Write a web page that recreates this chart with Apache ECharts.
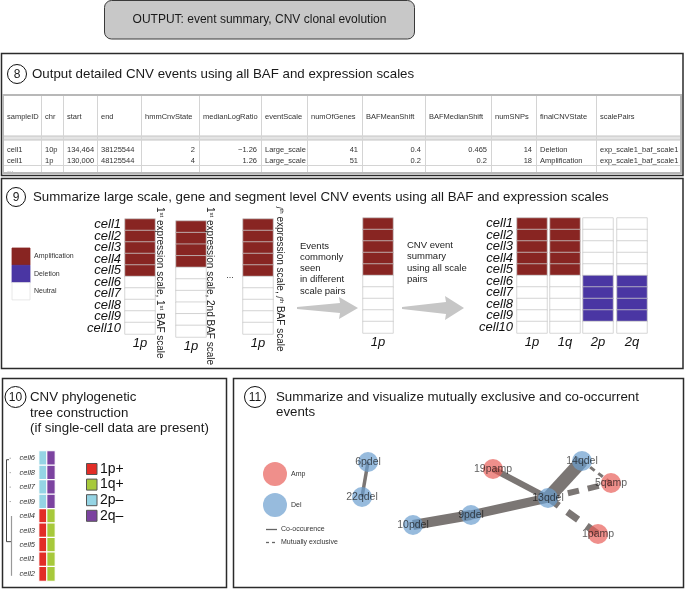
<!DOCTYPE html>
<html><head><meta charset="utf-8">
<script src="https://cdn.jsdelivr.net/npm/echarts@6/dist/echarts.min.js"></script>
<style>html,body{margin:0;padding:0;background:#fff;}#chart{width:685px;height:590px;}</style>
</head><body><div id="chart"></div>
<script>
// ---------------- data ----------------
const cells = ['cell1','cell2','cell3','cell4','cell5','cell6','cell7','cell8','cell9','cell10'];
const pairArm = ['1p'];
const pair1State = [1,1,1,1,1,0,0,0,0,0];
const pair2State = [1,1,1,1,0,0,0,0,0,0];
const pairJState = [1,1,1,1,1,0,0,0,0,0];
const commonState = [1,1,1,1,1,0,0,0,0,0];
const armLabels = ['1p','1q','2p','2q'];
const summary1p = [1,1,1,1,1,0,0,0,0,0];
const summary1q = [1,1,1,1,1,0,0,0,0,0];
const summary2p = [0,0,0,0,0,-1,-1,-1,-1,0];
const summary2q = [0,0,0,0,0,-1,-1,-1,-1,0];
const stateLegend = ['Amplification','Deletion','Neutral'];

const treeCells = ['cell6','cell8','cell7','cell9','cell4','cell3','cell5','cell1','cell2'];
const treeColA = [3,3,3,3,1,1,1,1,1];
const treeColB = [4,4,4,4,2,2,2,2,2];
const treeLegend = ['1p+','1q+','2p\u2013','2q\u2013'];

const tableHeader = ['sampleID','chr','start','end','hmmCnvState','medianLogRatio','eventScale','numOfGenes','BAFMeanShift','BAFMedianShift','numSNPs','finalCNVState','scalePairs'];
const tableRow1 = ['cell1','10p','134,464','38125544','2','\u22121.26','Large_scale','41','0.4','0.465','14','Deletion','exp_scale1_baf_scale1'];
const tableRow2 = ['cell1','1p','130,000','48125544','4','1.26','Large_scale','51','0.2','0.2','18','Amplification','exp_scale1_baf_scale1'];
const tableRow3 = ['...','','','','','','','','','','','',''];

const nodeNames = ['6pdel','22qdel','19pamp','14qdel','5qamp','13qdel','9pdel','10pdel','1pamp'];
const nodeKind  = ['Del','Del','Amp','Del','Amp','Del','Del','Del','Amp'];
const nodeLayoutX = [135,129,260,349,378,315,238,180,365];
const nodeLayoutY = [84,119,91,83,105,120,137,147,156];
const edgeFrom = ['6pdel','10pdel','9pdel','19pamp','13qdel','13qdel','13qdel','14qdel'];
const edgeTo   = ['22qdel','9pdel','13qdel','13qdel','14qdel','5qamp','1pamp','5qamp'];
const edgeWeight = [3.5,10,9,6,13,6,7,3];
const edgeKind = ['co','co','co','co','co','mx','mx','mx'];

// ---------------- styles ----------------
const FONT = "'Liberation Sans', Arial, Helvetica, sans-serif";
const AMP = '#882522', DEL = '#4a36a3';
const TREE_COL = ['#e22d27','#a7c93b','#95d4e4','#7c43a0'];
const AMP_NODE = '#e8605a', DEL_NODE = '#6b9ecf';
const TITLE = 13.3;

const chart = echarts.init(document.getElementById('chart'), null, {renderer:'canvas'});

const hmGrids = [
  {left:125, top:219, width:30, height:115},
  {left:176, top:221, width:30, height:116},
  {left:243, top:219, width:30, height:115},
  {left:363, top:218, width:30, height:115},
  {left:517, top:218, width:30, height:115},
  {left:550, top:218, width:30, height:115},
  {left:583, top:218, width:30, height:115},
  {left:617, top:218, width:30, height:115}
];
const hmX = [pairArm, pairArm, pairArm, pairArm, [armLabels[0]], [armLabels[1]], [armLabels[2]], [armLabels[3]]];
const hmData = [pair1State, pair2State, pairJState, commonState, summary1p, summary1q, summary2p, summary2q];

const grids = hmGrids.map(g => Object.assign({outerBoundsMode:'none', containLabel:false}, g));
grids.push({left:39, top:451, width:16, height:130, outerBoundsMode:'none'});
grids.push({left:233, top:378, width:451, height:210, outerBoundsMode:'none'});

const xAxes = [], yAxes = [], series = [];
hmData.forEach((arr, i) => {
  xAxes.push({type:'category', gridIndex:i, data:hmX[i], position:'bottom',
    axisLine:{show:false}, axisTick:{show:false}, splitLine:{show:false},
    axisLabel:{show:true, fontStyle:'italic', fontSize:13, fontFamily:FONT, color:'#111', margin:3}});
  yAxes.push({type:'category', gridIndex:i, data:cells, inverse:true,
    axisLine:{show:false}, axisTick:{show:false}, splitLine:{show:false},
    axisLabel:{show:(i===0||i===4), interval:0, fontStyle:'italic', fontSize:13, fontFamily:FONT, color:'#111', margin:4}});
  series.push({type:'heatmap', xAxisIndex:i, yAxisIndex:i, silent:true,
    data: arr.map((v, r) => [0, r, v]),
    itemStyle:{borderColor:'rgba(200,200,200,0.75)', borderWidth:1},
    emphasis:{disabled:true}});
});
// tree heatmap (grid 8)
xAxes.push({type:'category', gridIndex:8, data:['A','B'], show:false});
yAxes.push({type:'category', gridIndex:8, data:treeCells, inverse:true,
  axisLine:{show:false}, axisTick:{show:false}, splitLine:{show:false},
  axisLabel:{show:true, interval:0, fontStyle:'italic', fontSize:7.5, fontFamily:FONT, color:'#333', margin:4}});
series.push({type:'heatmap', xAxisIndex:8, yAxisIndex:8, silent:true,
  data: treeColA.map((v, r) => [0, r, v]).concat(treeColB.map((v, r) => [1, r, v])),
  itemStyle:{borderColor:'#ffffff', borderWidth:1.2}, emphasis:{disabled:true}});
// network (grid 9)
xAxes.push({type:'value', gridIndex:9, min:0, max:451, show:false, splitLine:{show:false}});
yAxes.push({type:'value', gridIndex:9, min:0, max:210, inverse:true, show:false, splitLine:{show:false}});
const nodePos = name => { const i = nodeNames.indexOf(name); return [nodeLayoutX[i], nodeLayoutY[i]]; };
series.push({type:'lines', coordinateSystem:'cartesian2d', xAxisIndex:9, yAxisIndex:9, silent:true, z:2,
  lineStyle:{color:'#7b7674', opacity:1, curveness:0, cap:'butt'},
  data: edgeFrom.map((f, i) => ({coords:[nodePos(f), nodePos(edgeTo[i])],
    lineStyle:{width:edgeWeight[i], color:'#7b7674', opacity:1,
      type: edgeKind[i]==='mx' ? [edgeWeight[i]*1.9, edgeWeight[i]*1.5] : 'solid'}}))});
series.push({type:'scatter', xAxisIndex:9, yAxisIndex:9, silent:true, z:3, symbolSize:20,
  data: nodeNames.map((n, i) => ({name:n, value:[nodeLayoutX[i], nodeLayoutY[i]],
    itemStyle:{color: nodeKind[i]==='Amp' ? AMP_NODE : DEL_NODE, opacity:0.7}})),
  label:{show:true, position:'inside', formatter:'{b}', fontSize:10.5, fontFamily:FONT, color:'#111'}});

const option = {
  animation:false,
  backgroundColor:'#ffffff',
  grid: grids, xAxis: xAxes, yAxis: yAxes,
  visualMap:[
    {type:'piecewise', show:false, seriesIndex:[0,1,2,3,4,5,6,7], dimension:2,
     pieces:[{value:1, color:AMP},{value:-1, color:DEL},{value:0, color:'#ffffff'}]},
    {type:'piecewise', show:false, seriesIndex:8, dimension:2,
     pieces:[{value:1, color:TREE_COL[0]},{value:2, color:TREE_COL[1]},{value:3, color:TREE_COL[2]},{value:4, color:TREE_COL[3]}]}
  ],
  series: series
};
chart.setOption(option);

// ---------------- annotations ----------------
const G = [];
function txt(x, y, text, size, opts) {
  opts = opts || {};
  G.push({type:'text', x:x, y:y, rotation:opts.rotation||0, silent:true, z:opts.z||10,
    style:Object.assign({text:text, x:0, y:0, font:(opts.style||'')+' '+size+'px '+FONT, fill:opts.fill||'#1a1a1a',
      align:opts.align||'left', textAlign:opts.align||'left', verticalAlign:opts.va||'middle', textVerticalAlign:opts.va||'middle'}, opts.extra||{})});
}
function rect(x, y, w, h, style, r) {
  G.push({type:'rect', silent:true, z:1, shape:{x:x, y:y, width:w, height:h, r:r||0}, style:style});
}
function line(x1, y1, x2, y2, style) {
  G.push({type:'line', silent:true, z:5, shape:{x1:x1, y1:y1, x2:x2, y2:y2}, style:style});
}
function numCircle(cx, cy, r, label) {
  G.push({type:'circle', silent:true, z:6, shape:{cx:cx, cy:cy, r:r}, style:{fill:'#fff', stroke:'#111', lineWidth:1}});
  txt(cx, cy+0.5, label, 12, {align:'center'});
}

// header box
rect(104.5, 0.5, 310, 38.5, {fill:'#c8c8c8', stroke:'#3a3a3a', lineWidth:1}, 7);
txt(259.5, 20, 'OUTPUT: event summary, CNV clonal evolution', 12, {align:'center'});

// panel boxes
const boxStyle = {fill:'rgba(0,0,0,0)', stroke:'#2b2b2b', lineWidth:1.5};
rect(1.5, 53.5, 681.5, 122, boxStyle);
rect(1.5, 178.5, 681.5, 190, boxStyle);
rect(2.5, 378.5, 224, 209, boxStyle);
rect(233.5, 378.5, 450, 209, boxStyle);

// panel 8
numCircle(17, 74, 9.5, '8');
txt(32, 74, 'Output detailed CNV events using all BAF and expression scales', TITLE);
const colX = [3,41,63,97,141,199,261,307,362,425,491,536,596,681];
const rightCols = [4,5,7,8,9,10];
const tTop = 95, tBot = 173;
G.push({type:'rect', silent:true, z:4, shape:{x:3, y:136, width:678, height:4}, style:{fill:'#e4e4e4'}});
line(3, 136, 681, 136, {stroke:'#c4c4c4', lineWidth:1});
line(3, 140, 681, 140, {stroke:'#c4c4c4', lineWidth:1});
line(3, 165.5, 681, 165.5, {stroke:'#d4d4d4', lineWidth:1});
for (let c = 1; c < colX.length-1; c++) line(colX[c]+0.5, tTop, colX[c]+0.5, tBot, {stroke:'#d4d4d4', lineWidth:1});
G.push({type:'rect', silent:true, z:5, shape:{x:3, y:tTop, width:678, height:tBot-tTop}, style:{fill:'rgba(0,0,0,0)', stroke:'#b8b8b8', lineWidth:2}});
const rowsY = [[tableHeader,117],[tableRow1,150],[tableRow2,160.5],[tableRow3,169.5]];
rowsY.forEach(([row, y], ri) => {
  row.forEach((t, c) => {
    if (!t) return;
    const right = ri > 0 && rightCols.indexOf(c) >= 0;
    txt(right ? colX[c+1]-4 : colX[c]+4, y, t, 7.5, {align: right ? 'right' : 'left', fill: ri===3 ? '#999' : '#333'});
  });
});

// panel 9
numCircle(16, 197, 9.5, '9');
txt(33, 197, 'Summarize large scale, gene and segment level CNV events using all BAF and expression scales', TITLE);
const legColors = [AMP, DEL, '#ffffff'];
stateLegend.forEach((s, i) => {
  G.push({type:'rect', silent:true, z:4, shape:{x:12, y:248+i*17.3, width:18, height:17.3},
    style:{fill:legColors[i], stroke: i===2 ? '#e2e2e2' : legColors[i], lineWidth:0.8}});
  txt(34, 256.5+i*17.3, s, 7, {fill:'#333'});
});
const sup = {fontSize:6, fontFamily:FONT, verticalAlign:'top', fill:'#222'};
const supj = {fontSize:7.5, fontFamily:FONT, fontStyle:'italic', verticalAlign:'top', fill:'#222'};
txt(160, 207, '1{s|st} expression scale, 1{s|st} BAF scale', 10, {rotation:-Math.PI/2, fill:'#222', extra:{rich:{s:sup}}});
txt(210, 207, '1{s|st} expression scale, 2nd BAF scale', 10, {rotation:-Math.PI/2, fill:'#222', extra:{rich:{s:sup}}});
txt(279.5, 207, '{j|j}{s|th} expression scale, {j|j}{s|th} BAF scale', 10, {rotation:-Math.PI/2, fill:'#222', extra:{rich:{s:sup, j:supj}}});
txt(230, 276, '...', 9, {align:'center', fill:'#333'});
G.push({type:'text', silent:true, z:10, style:{text:'Events\ncommonly\nseen\nin different\nscale pairs', x:300, y:240.5, font:'9.5px '+FONT, fill:'#222', lineHeight:11.2, align:'left', verticalAlign:'top', textAlign:'left', textVerticalAlign:'top'}});
G.push({type:'text', silent:true, z:10, style:{text:'CNV event\nsummary\nusing all scale\npairs', x:407, y:239.5, font:'9.5px '+FONT, fill:'#222', lineHeight:11.4, align:'left', verticalAlign:'top', textAlign:'left', textVerticalAlign:'top'}});
G.push({type:'polygon', silent:true, z:4, shape:{points:[[297,307],[340,303],[339,297],[358,308],[339,319],[340,313],[297,309]]}, style:{fill:'#c6c6c6'}});
G.push({type:'polygon', silent:true, z:4, shape:{points:[[402,307],[446,302],[445,296],[464,308],[445,320],[446,314],[402,309]]}, style:{fill:'#c6c6c6'}});

// panel 10
numCircle(15.5, 397, 10.5, '10');
txt(30, 397, 'CNV phylogenetic', TITLE);
txt(30, 413, 'tree construction', TITLE);
txt(30, 428.5, '(if single-cell data are present)', TITLE);
treeLegend.forEach((s, i) => {
  G.push({type:'rect', silent:true, z:4, shape:{x:86.5, y:463.5+i*15.6, width:10.5, height:11}, style:{fill:TREE_COL[i], stroke:'#555', lineWidth:1}});
  txt(100, 469+i*15.6, s, 14, {fill:'#111'});
});
const rowPx = name => chart.convertToPixel({yAxisIndex:8}, name);
const yTop = rowPx(treeCells[0]) + 1.5, yClusterMid = (rowPx(treeCells[5]) + rowPx(treeCells[6]))/2 + 4;
const yC2Top = rowPx(treeCells[4]), yC2Bot = rowPx(treeCells[8]) + 2;
line(6.5, yTop, 6.5, yClusterMid, {stroke:'#444', lineWidth:1});
line(6.5, yTop, 9, yTop, {stroke:'#444', lineWidth:1});
line(6.5, yClusterMid, 11.5, yClusterMid, {stroke:'#444', lineWidth:1});
line(11.5, yC2Top, 11.5, yC2Bot, {stroke:'#999', lineWidth:1.2});
for (let i = 0; i < 4; i++) { const y = rowPx(treeCells[i]); line(9.5, y, 11, y, {stroke:'#aaa', lineWidth:1}); }

// panel 11
numCircle(255, 397, 10.5, '11');
txt(276, 397, 'Summarize and visualize mutually exclusive and co-occurrent', TITLE);
txt(276, 412, 'events', TITLE);
G.push({type:'circle', silent:true, z:4, shape:{cx:275, cy:474, r:12}, style:{fill:AMP_NODE, opacity:0.7}});
G.push({type:'circle', silent:true, z:4, shape:{cx:275, cy:505, r:12}, style:{fill:DEL_NODE, opacity:0.7}});
txt(291, 474, 'Amp', 7, {fill:'#333'});
txt(291, 505, 'Del', 7, {fill:'#333'});
line(266, 529.5, 277, 529.5, {stroke:'#666', lineWidth:1.3});
line(266, 542.5, 277, 542.5, {stroke:'#666', lineWidth:1.3, lineDash:[3,3]});
txt(281, 529.5, 'Co-occurence', 7, {fill:'#333'});
txt(281, 542.5, 'Mutually exclusive', 7, {fill:'#333'});

chart.setOption({graphic:{elements:G}});
</script></body></html>
